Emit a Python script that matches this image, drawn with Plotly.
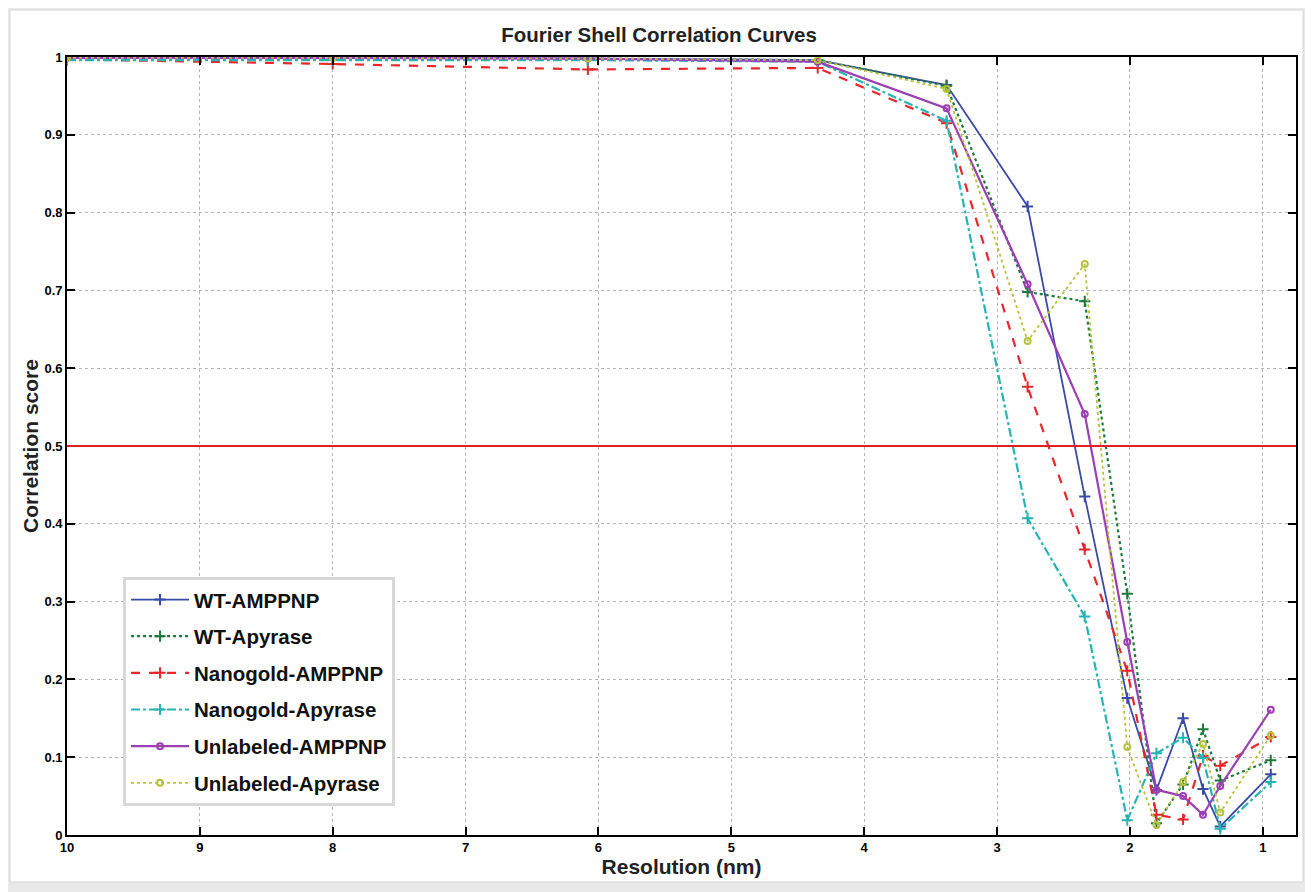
import plotly.graph_objects as go

resolution = [10, 8.0, 6.08, 4.35, 3.38, 2.77, 2.34, 2.02, 1.80, 1.60, 1.45, 1.32, 0.94]

wt_amppnp = [0.999, 0.999, 0.998, 0.996, 0.964, 0.808, 0.435, 0.176, 0.058, 0.150, 0.059, 0.011, 0.078]
wt_apyrase = [0.999, 0.998, 0.998, 0.996, 0.963, 0.698, 0.686, 0.310, 0.015, 0.065, 0.136, 0.070, 0.096]
nano_amppnp = [0.997, 0.991, 0.984, 0.986, 0.915, 0.576, 0.367, 0.211, 0.026, 0.020, 0.102, 0.089, 0.126]
nano_apyrase = [0.996, 0.996, 0.996, 0.994, 0.918, 0.407, 0.281, 0.019, 0.105, 0.125, 0.099, 0.008, 0.068]
unl_amppnp = [0.999, 0.999, 0.998, 0.994, 0.934, 0.708, 0.541, 0.248, 0.058, 0.050, 0.026, 0.063, 0.161]
unl_apyrase = [0.999, 0.999, 0.998, 0.996, 0.959, 0.635, 0.734, 0.113, 0.013, 0.068, 0.117, 0.029, 0.128]

threshold = 0.5

x_ticks = [10, 9, 8, 7, 6, 5, 4, 3, 2, 1]
y_ticks = [0, 0.1, 0.2, 0.3, 0.4, 0.5, 0.6, 0.7, 0.8, 0.9, 1]

series = [
    ("WT-AMPPNP", wt_amppnp, "#3a4aa6", "solid", 1.8, "cross-thin", 8),
    ("WT-Apyrase", wt_apyrase, "#1d7a3c", "dot", 2.2, "cross-thin", 8),
    ("Nanogold-AMPPNP", nano_amppnp, "#e8262c", "dash", 2.2, "cross-thin", 8),
    ("Nanogold-Apyrase", nano_apyrase, "#26b3b3", "dashdot", 2.2, "cross-thin", 8),
    ("Unlabeled-AMPPNP", unl_amppnp, "#9b3fb3", "solid", 2.2, "circle-open", 6),
    ("Unlabeled-Apyrase", unl_apyrase, "#b6c13c", "dot", 1.8, "circle-open", 6),
]

FONT = "Liberation Sans, Arial, sans-serif"

fig = go.Figure()
for i, (name, vals, color, dash, width, sym, msize) in enumerate(series):
    fig.add_trace(go.Scatter(
        x=resolution, y=vals, name=name, mode="lines+markers",
        legendgroup=f"g{i}",
        line=dict(color=color, dash=dash, width=width),
        marker=dict(symbol=sym, size=msize, color=color,
                    line=dict(color=color, width=2)),
    ))

fig.add_hline(y=threshold, line=dict(color="#e02020", width=2))

fig.add_shape(type="rect", xref="paper", yref="paper",
              x0=-0.0464, x1=1.0057, y0=-0.0604, y1=1.0604,
              fillcolor="white", line=dict(color="#d4d4d4", width=1),
              layer="below")

axis_common = dict(
    showline=True, linecolor="black", linewidth=1.6, mirror="ticks",
    ticks="inside", ticklen=8, tickwidth=1.6, tickcolor="black",
    showgrid=True, gridcolor="#b4b4b4", griddash="dot", gridwidth=1,
    zeroline=False,
    tickfont=dict(family=FONT, size=13, color="black", weight="bold"),
)

fig.update_layout(
    width=1305, height=884,
    margin=dict(l=59, r=17, t=49, b=57),
    paper_bgcolor="#e9e9e9", plot_bgcolor="white",
    title=dict(text="<b>Fourier Shell Correlation Curves</b>",
               x=0.4989, xref="container", xanchor="center",
               y=0.9695, yref="container", yanchor="middle",
               font=dict(family=FONT, size=20.5, color="#222222")),
    xaxis=dict(range=[10, 0.75], tickvals=x_ticks,
               title=dict(text="<b>Resolution (nm)</b>", standoff=4,
                          font=dict(family=FONT, size=21, color="#222222")),
               **axis_common),
    yaxis=dict(range=[0, 1], tickvals=y_ticks,
               title=dict(text="<b>Correlation score</b>", standoff=0,
                          font=dict(family=FONT, size=21, color="#222222")),
               **axis_common),
    legend=dict(x=0.0456, y=0.332, xanchor="left", yanchor="top",
                bgcolor="white", bordercolor="#d8d8d8", borderwidth=3,
                tracegroupgap=7, itemwidth=58,
                font=dict(family=FONT, size=20.5, color="#111111", weight="bold")),
    showlegend=True,
)

fig.write_html("out.html")
